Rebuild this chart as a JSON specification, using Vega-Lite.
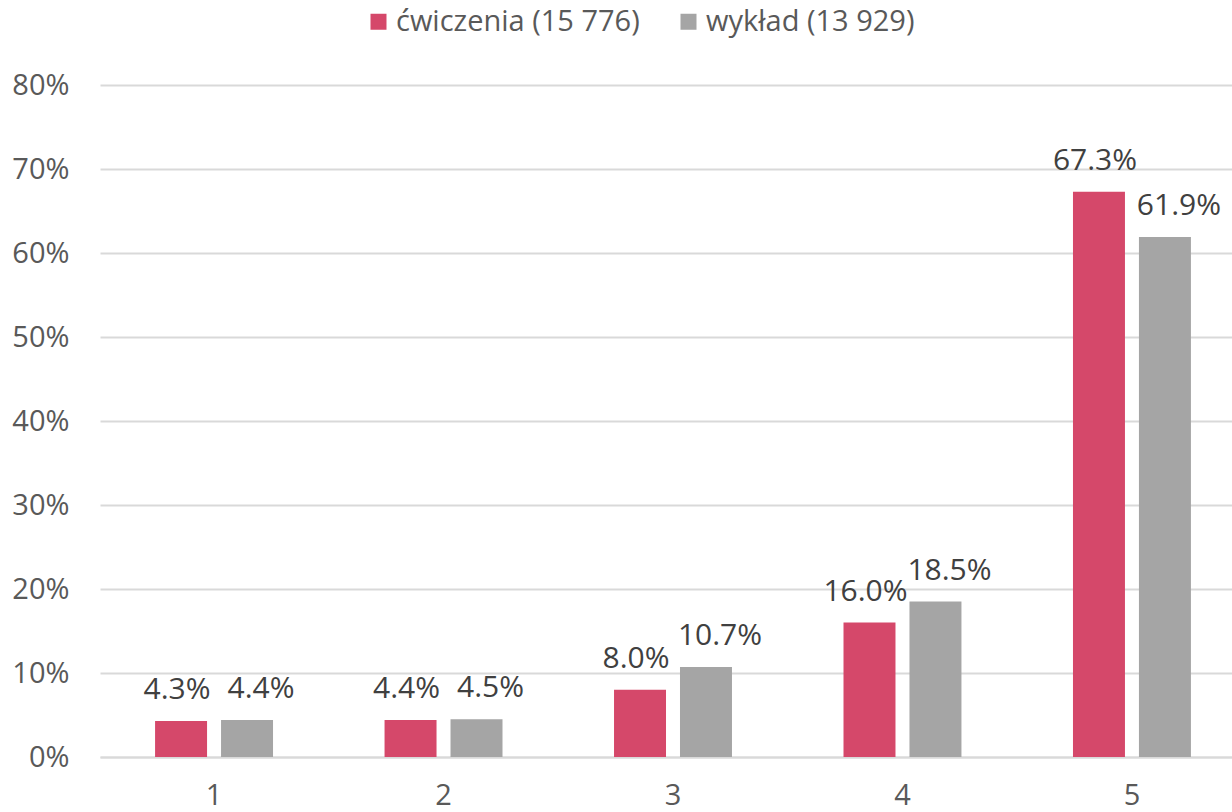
{
  "$schema": "https://vega.github.io/schema/vega-lite/v6.json",
  "autosize": "none",
  "width": 1146,
  "height": 672,
  "padding": {"left": 100, "top": 85, "right": -14, "bottom": 55},
  "background": "white",
  "config": {
    "view": {"stroke": null},
    "font": "Open Sans"
  },
  "data": {
    "values": [
      {"ocena": "1", "typ": "ćwiczenia (15 776)", "udzial": 0.043},
      {"ocena": "1", "typ": "wykład (13 929)", "udzial": 0.044},
      {"ocena": "2", "typ": "ćwiczenia (15 776)", "udzial": 0.044},
      {"ocena": "2", "typ": "wykład (13 929)", "udzial": 0.045},
      {"ocena": "3", "typ": "ćwiczenia (15 776)", "udzial": 0.080},
      {"ocena": "3", "typ": "wykład (13 929)", "udzial": 0.107},
      {"ocena": "4", "typ": "ćwiczenia (15 776)", "udzial": 0.160},
      {"ocena": "4", "typ": "wykład (13 929)", "udzial": 0.185},
      {"ocena": "5", "typ": "ćwiczenia (15 776)", "udzial": 0.673},
      {"ocena": "5", "typ": "wykład (13 929)", "udzial": 0.619}
    ]
  },
  "encoding": {
    "x": {
      "field": "ocena", "type": "nominal",
      "scale": {"paddingInner": 0.486, "paddingOuter": 0.24},
      "axis": {
        "title": null, "labelAngle": 0, "ticks": false, "domain": true,
        "domainColor": "#d9d9d9", "domainWidth": 2,
        "labelFont": "Open Sans", "labelFontSize": 29, "labelColor": "#595959",
        "labelPadding": 24
      }
    },
    "xOffset": {
      "field": "typ", "type": "nominal",
      "sort": ["ćwiczenia (15 776)", "wykład (13 929)"],
      "scale": {"paddingInner": 0.212, "paddingOuter": 0}
    },
    "y": {
      "field": "udzial", "type": "quantitative",
      "scale": {"domain": [0, 0.8], "nice": false},
      "axis": {
        "title": null, "format": ".0%", "values": [0, 0.1, 0.2, 0.3, 0.4, 0.5, 0.6, 0.7, 0.8],
        "ticks": false, "domain": false, "grid": true,
        "gridColor": "#d9d9d9", "gridWidth": 2,
        "labelFont": "Open Sans", "labelFontSize": 29, "labelColor": "#595959",
        "labelPadding": 31
      }
    }
  },
  "layer": [
    {
      "mark": {"type": "bar"},
      "encoding": {
        "color": {
          "field": "typ", "type": "nominal",
          "scale": {"domain": ["ćwiczenia (15 776)", "wykład (13 929)"], "range": ["#D5486A", "#A5A5A5"]},
          "legend": {
            "title": null, "orient": "none", "direction": "horizontal",
            "legendX": 264, "legendY": -78,
            "symbolType": "square", "symbolSize": 256, "symbolStrokeWidth": 0,
            "labelFont": "Open Sans", "labelFontSize": 29, "labelColor": "#595959",
            "labelLimit": 0, "columnPadding": 34, "labelOffset": 3
          }
        }
      }
    },
    {
      "transform": [{"filter": "datum.typ === 'ćwiczenia (15 776)'"}],
      "mark": {"type": "text", "baseline": "bottom", "dy": -16, "dx": -4, "font": "Open Sans", "fontSize": 30, "color": "#404040"},
      "encoding": {
        "text": {"field": "udzial", "type": "quantitative", "format": ".1%"}
      }
    },
    {
      "transform": [{"filter": "datum.typ === 'wykład (13 929)'"}],
      "mark": {"type": "text", "baseline": "bottom", "dy": -16, "dx": 14, "font": "Open Sans", "fontSize": 30, "color": "#404040"},
      "encoding": {
        "text": {"field": "udzial", "type": "quantitative", "format": ".1%"}
      }
    }
  ]
}
